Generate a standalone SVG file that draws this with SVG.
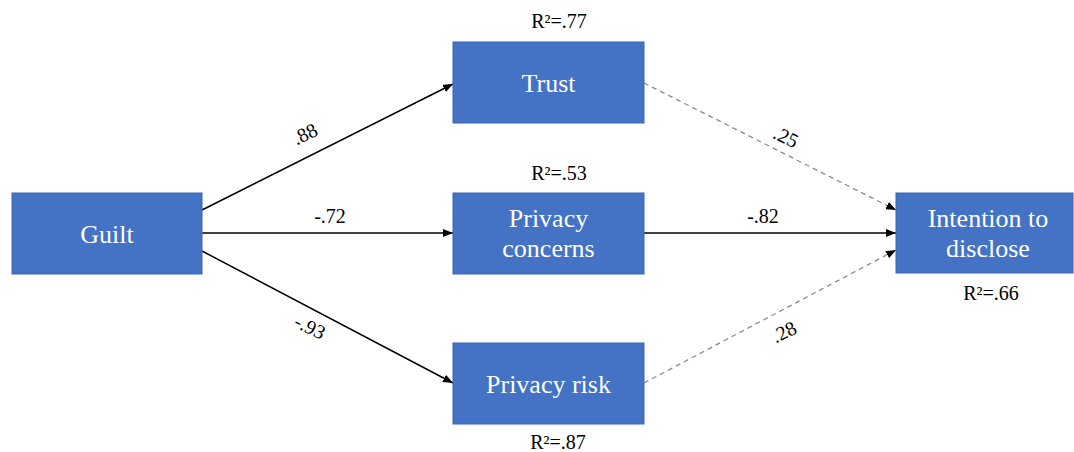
<svg xmlns="http://www.w3.org/2000/svg" width="1074" height="452" viewBox="0 0 1074 452">
<style>
.box{fill:#4472C4;stroke:#3A65B5;stroke-width:1}
.nt{font-family:"Liberation Serif","Times New Roman",serif;font-size:26px;fill:#ffffff;text-anchor:middle}
.r2{font-family:"Liberation Serif","Times New Roman",serif;font-size:20px;fill:#000000;text-anchor:middle}
.el{font-family:"Liberation Serif","Times New Roman",serif;font-size:20px;fill:#000000;text-anchor:middle}
.solid{stroke:#000000;stroke-width:1.5;fill:none;marker-end:url(#ah)}
.dash{stroke:#8C8C8C;stroke-width:1.3;fill:none;stroke-dasharray:5 4;marker-end:url(#ahd)}
</style>
<defs>
<marker id="ah" markerWidth="10" markerHeight="8" refX="10" refY="4" orient="auto" markerUnits="userSpaceOnUse">
<path d="M0,0 L10,4 L0,8 Z" fill="#000000"/>
</marker>
<marker id="ahd" markerWidth="10" markerHeight="8" refX="10" refY="4" orient="auto" markerUnits="userSpaceOnUse">
<path d="M0,0 L10,4 L0,8 Z" fill="#000000"/>
</marker>
</defs>
<rect width="1074" height="452" fill="#ffffff"/>
<g id="connectors">
<line class="solid" x1="202" y1="210" x2="453" y2="84"/>
<line class="solid" x1="202" y1="233" x2="453" y2="233"/>
<line class="solid" x1="202" y1="251" x2="453" y2="383"/>
<line class="dash" x1="644" y1="83" x2="896" y2="210"/>
<line class="solid" x1="644" y1="233" x2="896" y2="233"/>
<line class="dash" x1="644" y1="383" x2="896" y2="250"/>
<text class="el" transform="translate(308,140) rotate(-26.5)">.88</text>
<text class="el" x="330" y="223">-.72</text>
<text class="el" transform="translate(307,333) rotate(26.5)">-.93</text>
<text class="el" transform="translate(783,143) rotate(26.5)">.25</text>
<text class="el" x="763" y="223">-.82</text>
<text class="el" transform="translate(787,338) rotate(-26.5)">.28</text>
</g>
<g id="guilt">
<rect class="box" x="12" y="193" width="190" height="81"/>
<text class="nt" x="107" y="243">Guilt</text>
</g>
<g id="trust">
<rect class="box" x="453" y="42" width="191" height="81"/>
<text class="nt" x="548.5" y="92">Trust</text>
<text class="r2" x="559" y="28">R²=.77</text>
</g>
<g id="privacy-concerns">
<rect class="box" x="453" y="193" width="191" height="81"/>
<text class="nt" x="548.5" y="227">Privacy</text>
<text class="nt" x="548.5" y="257">concerns</text>
<text class="r2" x="559" y="180">R²=.53</text>
</g>
<g id="privacy-risk">
<rect class="box" x="453" y="343" width="191" height="81"/>
<text class="nt" x="548.5" y="393">Privacy risk</text>
<text class="r2" x="558" y="449">R²=.87</text>
</g>
<g id="intention">
<rect class="box" x="896" y="193" width="177" height="80"/>
<text class="nt" x="988" y="227">Intention to</text>
<text class="nt" x="988" y="257">disclose</text>
<text class="r2" x="991" y="300">R²=.66</text>
</g>
</svg>
